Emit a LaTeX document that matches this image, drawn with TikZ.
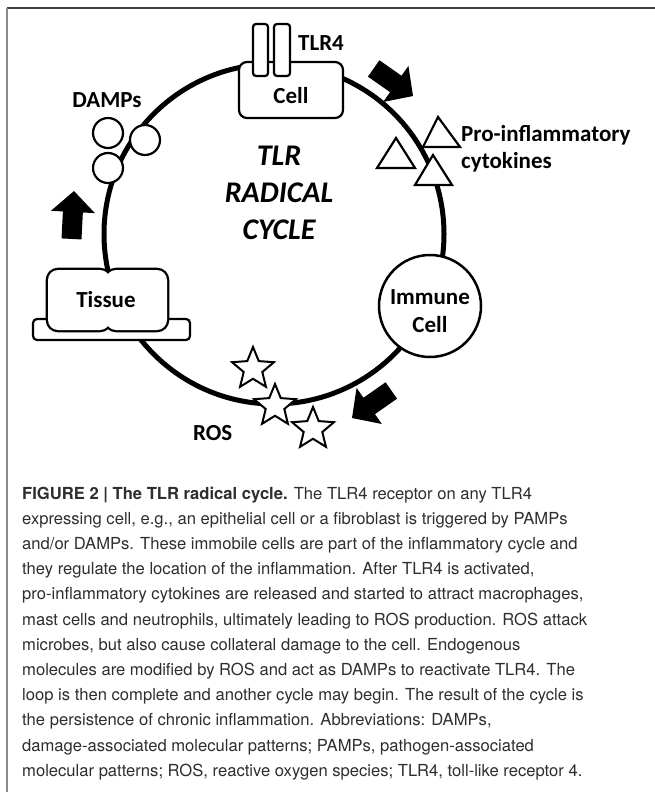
\documentclass[tikz,border=0pt]{standalone}
\usepackage{fontspec}
\setmainfont{Carlito}
\newfontfamily\capfont{TeX Gyre Heros}
\usetikzlibrary{shapes.geometric}
\newcommand\blockarrow[3]{%
  \begin{scope}[shift={(#1,#2)},rotate=#3]
    \fill[black] (0,0) -- (-21,22) -- (-21,10) -- (-48,10) -- (-48,-10) -- (-21,-10) -- (-21,-22) -- cycle;
  \end{scope}}
\tikzset{
  lbl/.style={font=\bfseries\fontsize{23}{26}\selectfont, inner sep=0pt},
  bigt/.style={font=\bfseries\itshape\fontsize{30}{34}\selectfont, inner sep=0pt},
  captxt/.style={font=\capfont\fontsize{16.6}{20}\selectfont, text=black!82, inner sep=0pt, anchor=base west},
  outl/.style={line width=2.2pt},
  tri/.style={draw, fill=white, line width=2.2pt, line join=miter},
  damp/.style={circle, draw, fill=white, line width=2.2pt, minimum size=30pt, inner sep=0pt},
  starshape/.style={star, star points=5, star point ratio=2.25, draw, fill=white, line width=2pt, minimum size=44pt, inner sep=0pt},
}
\begin{document}
\begin{tikzpicture}[x=1pt,y=-1pt]
\useasboundingbox (0,0) rectangle (655,792);
\fill[white] (0,0) rectangle (655,792);
% frame
\draw[line width=1.5pt, black!75] (7,8) -- (655,8);
\draw[line width=2pt, black!45] (7,8) -- (7,792);

% main cycle
\node[circle, draw, line width=5pt, minimum size=340pt, inner sep=0pt] (cycle) at (274,234) {};

% Cell with TLR4
\draw[outl, fill=white, rounded corners=8pt] (239,62) rectangle (343,118);
\node[lbl] (cell) at (291,96) {Cell};
\draw[outl, fill=white, rounded corners=3pt] (253,24) rectangle (268,76);
\draw[outl, fill=white, rounded corners=3pt] (274,24) rectangle (290,76);
\node[lbl] (tlr) at (321,43) {TLR4};

% DAMPs
\node[lbl] (dampslbl) at (107,100) {DAMPs};
\node[damp] (d1) at (108,133) {};
\node[damp] (d2) at (145,140) {};
\node[damp] (d3) at (108,168) {};

% cytokines
\draw[tri] (396,138) -- (415,168) -- (377,168) -- cycle;
\draw[tri] (438,117) -- (460,147) -- (423,147) -- cycle;
\draw[tri] (433,155) -- (452,185) -- (415,185) -- cycle;
\node[lbl, anchor=west] (cyto1) at (461,135) {Pro-inflammatory};
\node[lbl, anchor=west] (cyto2) at (461,162) {cytokines};

% Immune cell
\node[circle, draw, fill=white, line width=2.5pt, minimum size=102pt, inner sep=0pt] (immune) at (430,306) {};
\node[lbl] (imm1) at (430,297) {Immune};
\node[lbl] (imm2) at (430,325) {Cell};

% ROS stars
\node[starshape] (s1) at (253,369) {};
\node[starshape] (s2) at (275,406) {};
\node[starshape] (s3) at (313,429) {};
\node[lbl, anchor=west] (ros) at (193,433) {ROS};

% Tissue
\draw[outl, fill=white, rounded corners=4pt] (33,319) rectangle (190,340);
\draw[line width=4.6pt, rounded corners=10pt] (48,270) rectangle (110,330);
\draw[line width=4.6pt, rounded corners=10pt] (106,270) rectangle (167,330);
\fill[white, rounded corners=10pt] (48,270) rectangle (110,330);
\fill[white, rounded corners=10pt] (106,270) rectangle (167,330);
\node[lbl] (tissue) at (106,300) {Tissue};

% center text
\node[bigt] (t1) at (279,156) {TLR};
\node[bigt] (t2) at (279,193) {RADICAL};
\node[bigt] (t3) at (279,230) {CYCLE};

% block arrows
\blockarrow{413}{96}{-35}
\blockarrow{352}{418}{215}
\blockarrow{74}{191}{87}

% caption
\node[captxt] (c1) at (22,499.0) {\textbf{FIGURE 2 | The TLR radical cycle.} The TLR4 receptor on any TLR4};
\node[captxt] (c2) at (22,524.2) {expressing cell, e.g., an epithelial cell or a fibroblast is triggered by PAMPs};
\node[captxt] (c3) at (22,549.4) {and/or DAMPs. These immobile cells are part of the inflammatory cycle and};
\node[captxt] (c4) at (22,574.6) {they regulate the location of the inflammation. After TLR4 is activated,};
\node[captxt] (c5) at (22,599.8) {pro-inflammatory cytokines are released and started to attract macrophages,};
\node[captxt] (c6) at (22,625.0) {mast cells and neutrophils, ultimately leading to ROS production. ROS attack};
\node[captxt] (c7) at (22,650.2) {microbes, but also cause collateral damage to the cell. Endogenous};
\node[captxt] (c8) at (22,675.4) {molecules are modified by ROS and act as DAMPs to reactivate TLR4. The};
\node[captxt] (c9) at (22,700.6) {loop is then complete and another cycle may begin. The result of the cycle is};
\node[captxt] (c10) at (22,725.8) {the persistence of chronic inflammation. Abbreviations: DAMPs,};
\node[captxt] (c11) at (22,751.0) {damage-associated molecular patterns; PAMPs, pathogen-associated};
\node[captxt] (c12) at (22,776.2) {molecular patterns; ROS, reactive oxygen species; TLR4, toll-like receptor 4.};
\end{tikzpicture}
\end{document}
